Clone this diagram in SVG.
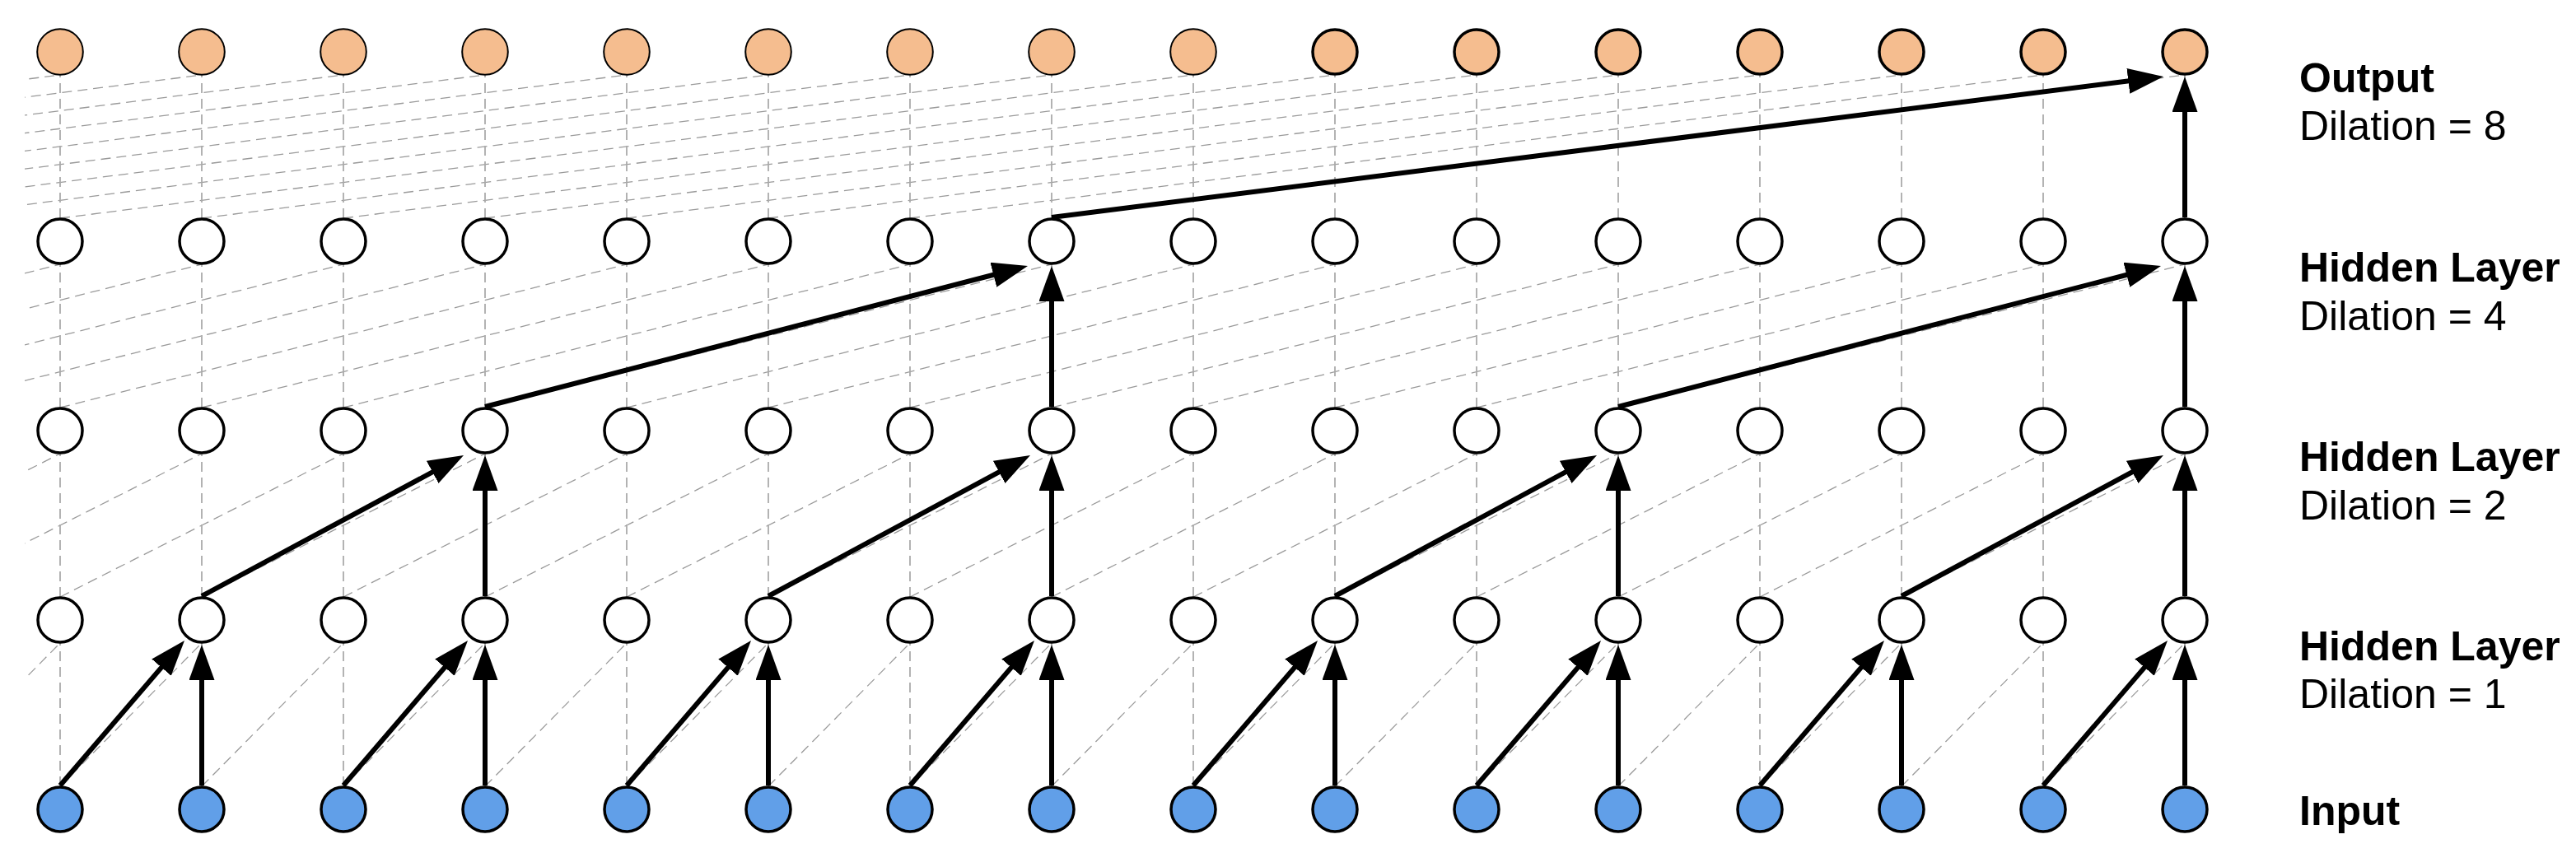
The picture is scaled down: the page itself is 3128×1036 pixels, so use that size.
<svg xmlns="http://www.w3.org/2000/svg" width="3128" height="1036" viewBox="0 0 3128 1036">
<style>
.gd{fill:none;stroke:#9a9a9a;stroke-width:1.3;stroke-dasharray:12 7}
.gv{fill:none;stroke:#ababab;stroke-width:1.8;stroke-dasharray:12 7}
.ar{fill:none;stroke:#000;stroke-width:6;marker-end:url(#ah)}
.n{stroke:#000;stroke-width:3.5}
.hid{fill:#fff}
.inp{fill:#619FE8}
.out{fill:#F5BD8F}
.thin{stroke-width:2}
.lb{font-family:"Liberation Sans",Arial,Helvetica,sans-serif;font-size:50px;fill:#000}
.b{font-weight:bold}
</style>
<defs>
<marker id="ah" markerUnits="userSpaceOnUse" markerWidth="44" markerHeight="32" refX="33" refY="15.5" orient="auto" viewBox="0 0 44 32">
<path d="M0,0 L43,15.5 L0,31 z" fill="#000"/>
</marker>
<clipPath id="cl"><rect x="30" y="0" width="3098" height="1036"/></clipPath>
</defs>
<rect width="3128" height="1036" fill="#fff"/>
<g id="connectors">
<g id="grid" clip-path="url(#cl)">
<path class="gd" d="M-99 955L73 781M73 955L245 781M245 955L417 781M417 955L589 781M589 955L761 781M761 955L933 781M933 955L1105 781M1105 955L1277 781M1277 955L1449 781M1449 955L1621 781M1621 955L1793 781M1793 955L1965 781M1965 955L2137 781M2137 955L2309 781M2309 955L2481 781M2481 955L2653 781"/>
<path class="gd" d="M-271 725L73 551M-99 725L245 551M73 725L417 551M245 725L589 551M417 725L761 551M589 725L933 551M761 725L1105 551M933 725L1277 551M1105 725L1449 551M1277 725L1621 551M1449 725L1793 551M1621 725L1965 551M1793 725L2137 551M1965 725L2309 551M2137 725L2481 551M2309 725L2653 551"/>
<path class="gd" d="M-615 495L73 321M-443 495L245 321M-271 495L417 321M-99 495L589 321M73 495L761 321M245 495L933 321M417 495L1105 321M589 495L1277 321M761 495L1449 321M933 495L1621 321M1105 495L1793 321M1277 495L1965 321M1449 495L2137 321M1621 495L2309 321M1793 495L2481 321M1965 495L2653 321"/>
<path class="gd" d="M-1303 265L73 91M-1131 265L245 91M-959 265L417 91M-787 265L589 91M-615 265L761 91M-443 265L933 91M-271 265L1105 91M-99 265L1277 91M73 265L1449 91M245 265L1621 91M417 265L1793 91M589 265L1965 91M761 265L2137 91M933 265L2309 91M1105 265L2481 91M1277 265L2653 91"/>
<path class="gv" d="M73 955V781M73 725V551M73 495V321M73 265V91M245 955V781M245 725V551M245 495V321M245 265V91M417 955V781M417 725V551M417 495V321M417 265V91M589 955V781M589 725V551M589 495V321M589 265V91M761 955V781M761 725V551M761 495V321M761 265V91M933 955V781M933 725V551M933 495V321M933 265V91M1105 955V781M1105 725V551M1105 495V321M1105 265V91M1277 955V781M1277 725V551M1277 495V321M1277 265V91M1449 955V781M1449 725V551M1449 495V321M1449 265V91M1621 955V781M1621 725V551M1621 495V321M1621 265V91M1793 955V781M1793 725V551M1793 495V321M1793 265V91M1965 955V781M1965 725V551M1965 495V321M1965 265V91M2137 955V781M2137 725V551M2137 495V321M2137 265V91M2309 955V781M2309 725V551M2309 495V321M2309 265V91M2481 955V781M2481 725V551M2481 495V321M2481 265V91M2653 955V781M2653 725V551M2653 495V321M2653 265V91"/>
</g>
<g id="arrows">
<path class="ar" d="M73 954L217.5 785.6"/><path class="ar" d="M245 954V793"/>
<path class="ar" d="M417 954L561.5 785.6"/><path class="ar" d="M589 954V793"/>
<path class="ar" d="M761 954L905.5 785.6"/><path class="ar" d="M933 954V793"/>
<path class="ar" d="M1105 954L1249.5 785.6"/><path class="ar" d="M1277 954V793"/>
<path class="ar" d="M1449 954L1593.5 785.6"/><path class="ar" d="M1621 954V793"/>
<path class="ar" d="M1793 954L1937.5 785.6"/><path class="ar" d="M1965 954V793"/>
<path class="ar" d="M2137 954L2281.5 785.6"/><path class="ar" d="M2309 954V793"/>
<path class="ar" d="M2481 954L2625.5 785.6"/><path class="ar" d="M2653 954V793"/>
<path class="ar" d="M245 724L554.2 557.7"/><path class="ar" d="M589 724V563"/>
<path class="ar" d="M933 724L1242.2 557.7"/><path class="ar" d="M1277 724V563"/>
<path class="ar" d="M1621 724L1930.2 557.7"/><path class="ar" d="M1965 724V563"/>
<path class="ar" d="M2309 724L2618.2 557.7"/><path class="ar" d="M2653 724V563"/>
<path class="ar" d="M589 494L1238.3 325.5"/><path class="ar" d="M1277 494V333"/>
<path class="ar" d="M1965 494L2614.3 325.5"/><path class="ar" d="M2653 494V333"/>
<path class="ar" d="M1277 264L2617.1 94.3"/><path class="ar" d="M2653 264V103"/>
</g>
</g>
<g id="nodes">
<g id="in0"><circle class="n inp" cx="73" cy="983" r="27"/></g>
<g id="in1"><circle class="n inp" cx="245" cy="983" r="27"/></g>
<g id="in2"><circle class="n inp" cx="417" cy="983" r="27"/></g>
<g id="in3"><circle class="n inp" cx="589" cy="983" r="27"/></g>
<g id="in4"><circle class="n inp" cx="761" cy="983" r="27"/></g>
<g id="in5"><circle class="n inp" cx="933" cy="983" r="27"/></g>
<g id="in6"><circle class="n inp" cx="1105" cy="983" r="27"/></g>
<g id="in7"><circle class="n inp" cx="1277" cy="983" r="27"/></g>
<g id="in8"><circle class="n inp" cx="1449" cy="983" r="27"/></g>
<g id="in9"><circle class="n inp" cx="1621" cy="983" r="27"/></g>
<g id="in10"><circle class="n inp" cx="1793" cy="983" r="27"/></g>
<g id="in11"><circle class="n inp" cx="1965" cy="983" r="27"/></g>
<g id="in12"><circle class="n inp" cx="2137" cy="983" r="27"/></g>
<g id="in13"><circle class="n inp" cx="2309" cy="983" r="27"/></g>
<g id="in14"><circle class="n inp" cx="2481" cy="983" r="27"/></g>
<g id="in15"><circle class="n inp" cx="2653" cy="983" r="27"/></g>
<g id="h1-0"><circle class="n hid" cx="73" cy="753" r="27"/></g>
<g id="h1-1"><circle class="n hid" cx="245" cy="753" r="27"/></g>
<g id="h1-2"><circle class="n hid" cx="417" cy="753" r="27"/></g>
<g id="h1-3"><circle class="n hid" cx="589" cy="753" r="27"/></g>
<g id="h1-4"><circle class="n hid" cx="761" cy="753" r="27"/></g>
<g id="h1-5"><circle class="n hid" cx="933" cy="753" r="27"/></g>
<g id="h1-6"><circle class="n hid" cx="1105" cy="753" r="27"/></g>
<g id="h1-7"><circle class="n hid" cx="1277" cy="753" r="27"/></g>
<g id="h1-8"><circle class="n hid" cx="1449" cy="753" r="27"/></g>
<g id="h1-9"><circle class="n hid" cx="1621" cy="753" r="27"/></g>
<g id="h1-10"><circle class="n hid" cx="1793" cy="753" r="27"/></g>
<g id="h1-11"><circle class="n hid" cx="1965" cy="753" r="27"/></g>
<g id="h1-12"><circle class="n hid" cx="2137" cy="753" r="27"/></g>
<g id="h1-13"><circle class="n hid" cx="2309" cy="753" r="27"/></g>
<g id="h1-14"><circle class="n hid" cx="2481" cy="753" r="27"/></g>
<g id="h1-15"><circle class="n hid" cx="2653" cy="753" r="27"/></g>
<g id="h2-0"><circle class="n hid" cx="73" cy="523" r="27"/></g>
<g id="h2-1"><circle class="n hid" cx="245" cy="523" r="27"/></g>
<g id="h2-2"><circle class="n hid" cx="417" cy="523" r="27"/></g>
<g id="h2-3"><circle class="n hid" cx="589" cy="523" r="27"/></g>
<g id="h2-4"><circle class="n hid" cx="761" cy="523" r="27"/></g>
<g id="h2-5"><circle class="n hid" cx="933" cy="523" r="27"/></g>
<g id="h2-6"><circle class="n hid" cx="1105" cy="523" r="27"/></g>
<g id="h2-7"><circle class="n hid" cx="1277" cy="523" r="27"/></g>
<g id="h2-8"><circle class="n hid" cx="1449" cy="523" r="27"/></g>
<g id="h2-9"><circle class="n hid" cx="1621" cy="523" r="27"/></g>
<g id="h2-10"><circle class="n hid" cx="1793" cy="523" r="27"/></g>
<g id="h2-11"><circle class="n hid" cx="1965" cy="523" r="27"/></g>
<g id="h2-12"><circle class="n hid" cx="2137" cy="523" r="27"/></g>
<g id="h2-13"><circle class="n hid" cx="2309" cy="523" r="27"/></g>
<g id="h2-14"><circle class="n hid" cx="2481" cy="523" r="27"/></g>
<g id="h2-15"><circle class="n hid" cx="2653" cy="523" r="27"/></g>
<g id="h3-0"><circle class="n hid" cx="73" cy="293" r="27"/></g>
<g id="h3-1"><circle class="n hid" cx="245" cy="293" r="27"/></g>
<g id="h3-2"><circle class="n hid" cx="417" cy="293" r="27"/></g>
<g id="h3-3"><circle class="n hid" cx="589" cy="293" r="27"/></g>
<g id="h3-4"><circle class="n hid" cx="761" cy="293" r="27"/></g>
<g id="h3-5"><circle class="n hid" cx="933" cy="293" r="27"/></g>
<g id="h3-6"><circle class="n hid" cx="1105" cy="293" r="27"/></g>
<g id="h3-7"><circle class="n hid" cx="1277" cy="293" r="27"/></g>
<g id="h3-8"><circle class="n hid" cx="1449" cy="293" r="27"/></g>
<g id="h3-9"><circle class="n hid" cx="1621" cy="293" r="27"/></g>
<g id="h3-10"><circle class="n hid" cx="1793" cy="293" r="27"/></g>
<g id="h3-11"><circle class="n hid" cx="1965" cy="293" r="27"/></g>
<g id="h3-12"><circle class="n hid" cx="2137" cy="293" r="27"/></g>
<g id="h3-13"><circle class="n hid" cx="2309" cy="293" r="27"/></g>
<g id="h3-14"><circle class="n hid" cx="2481" cy="293" r="27"/></g>
<g id="h3-15"><circle class="n hid" cx="2653" cy="293" r="27"/></g>
<g id="out0"><circle class="n out thin" cx="73" cy="63" r="27.8"/></g>
<g id="out1"><circle class="n out thin" cx="245" cy="63" r="27.8"/></g>
<g id="out2"><circle class="n out thin" cx="417" cy="63" r="27.8"/></g>
<g id="out3"><circle class="n out thin" cx="589" cy="63" r="27.8"/></g>
<g id="out4"><circle class="n out thin" cx="761" cy="63" r="27.8"/></g>
<g id="out5"><circle class="n out thin" cx="933" cy="63" r="27.8"/></g>
<g id="out6"><circle class="n out thin" cx="1105" cy="63" r="27.8"/></g>
<g id="out7"><circle class="n out thin" cx="1277" cy="63" r="27.8"/></g>
<g id="out8"><circle class="n out thin" cx="1449" cy="63" r="27.8"/></g>
<g id="out9"><circle class="n out" cx="1621" cy="63" r="27"/></g>
<g id="out10"><circle class="n out" cx="1793" cy="63" r="27"/></g>
<g id="out11"><circle class="n out" cx="1965" cy="63" r="27"/></g>
<g id="out12"><circle class="n out" cx="2137" cy="63" r="27"/></g>
<g id="out13"><circle class="n out" cx="2309" cy="63" r="27"/></g>
<g id="out14"><circle class="n out" cx="2481" cy="63" r="27"/></g>
<g id="out15"><circle class="n out" cx="2653" cy="63" r="27"/></g>
</g>
<g id="labels">
<text class="lb b" x="2792" y="112">Output</text>
<text class="lb" x="2792" y="170">Dilation = 8</text>
<text class="lb b" x="2792" y="342">Hidden Layer</text>
<text class="lb" x="2792" y="401">Dilation = 4</text>
<text class="lb b" x="2792" y="572">Hidden Layer</text>
<text class="lb" x="2792" y="631">Dilation = 2</text>
<text class="lb b" x="2792" y="802">Hidden Layer</text>
<text class="lb" x="2792" y="860">Dilation = 1</text>
<text class="lb b" x="2792" y="1002">Input</text>
</g>
</svg>
